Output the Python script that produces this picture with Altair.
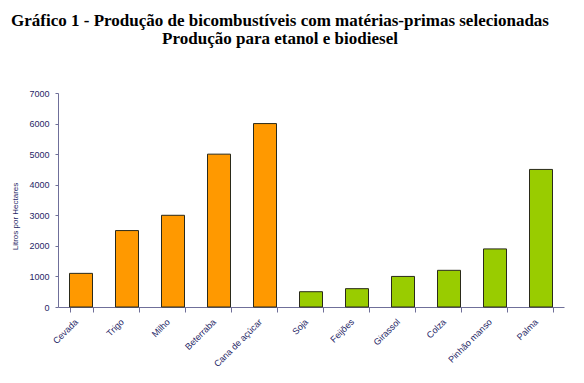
import altair as alt
import pandas as pd

categorias = ["Cevada", "Trigo", "Milho", "Beterraba", "Cana de açúcar",
              "Soja", "Feijões", "Girassol", "Colza", "Pinhão manso", "Palma"]
valores = [1100, 2500, 3000, 5000, 6000, 500, 600, 1000, 1200, 1900, 4500]
tipos = ["Etanol"] * 5 + ["Biodiesel"] * 6
y_ticks = [0, 1000, 2000, 3000, 4000, 5000, 6000, 7000]

df = pd.DataFrame({"Matéria-prima": categorias, "Litros": valores, "Tipo": tipos})

navy = "#1f1f66"
axis_col = "#6f6f99"

chart = alt.Chart(df).mark_bar(stroke="#2a2a1a", strokeWidth=1).encode(
    x=alt.X("Matéria-prima:N", sort=None,
            scale=alt.Scale(paddingInner=0.5, paddingOuter=0.25),
            axis=alt.Axis(title=None, labelAngle=-45, labelAlign="right",
                          labelBaseline="middle", labelFontSize=9,
                          labelFont="Liberation Sans", labelColor=navy,
                          labelPadding=8, labelOffset=-5, tickBand="extent",
                          tickSize=5, tickColor=axis_col, domainColor=axis_col)),
    y=alt.Y("Litros:Q", scale=alt.Scale(domain=[0, 7000], nice=False),
            axis=alt.Axis(title="Litros por Hectares", values=y_ticks, format="d",
                          grid=False, tickSize=3, labelFontSize=9,
                          labelFont="Liberation Sans", labelColor=navy,
                          labelPadding=6, tickColor=axis_col,
                          domainColor=axis_col, titleFontSize=8,
                          titleFont="Liberation Sans", titleFontWeight="normal",
                          titleColor=navy, titleX=-43, titleY=123,
                          titleAlign="center", titleBaseline="middle",
                          titleAngle=-90)),
    color=alt.Color("Tipo:N", scale=alt.Scale(domain=["Etanol", "Biodiesel"],
                                               range=["#FF9900", "#99CC00"]),
                    legend=None),
).properties(
    width=506, height=214,
    autosize=alt.AutoSizeParams(type="none"),
    padding={"left": 50, "top": 85, "right": 12, "bottom": 75},
    title=alt.TitleParams(
        text=["Gráfico 1 - Produção de bicombustíveis com matérias-primas selecionadas",
              "Produção para etanol e biodiesel"],
        font="Liberation Serif", fontSize=17, fontWeight="bold", color="black",
        lineHeight=18, anchor="middle", dx=-31, offset=28, baseline="alphabetic"),
).configure_view(stroke=None)

chart.save("out.html", embed_options={"renderer": "svg", "actions": False})
